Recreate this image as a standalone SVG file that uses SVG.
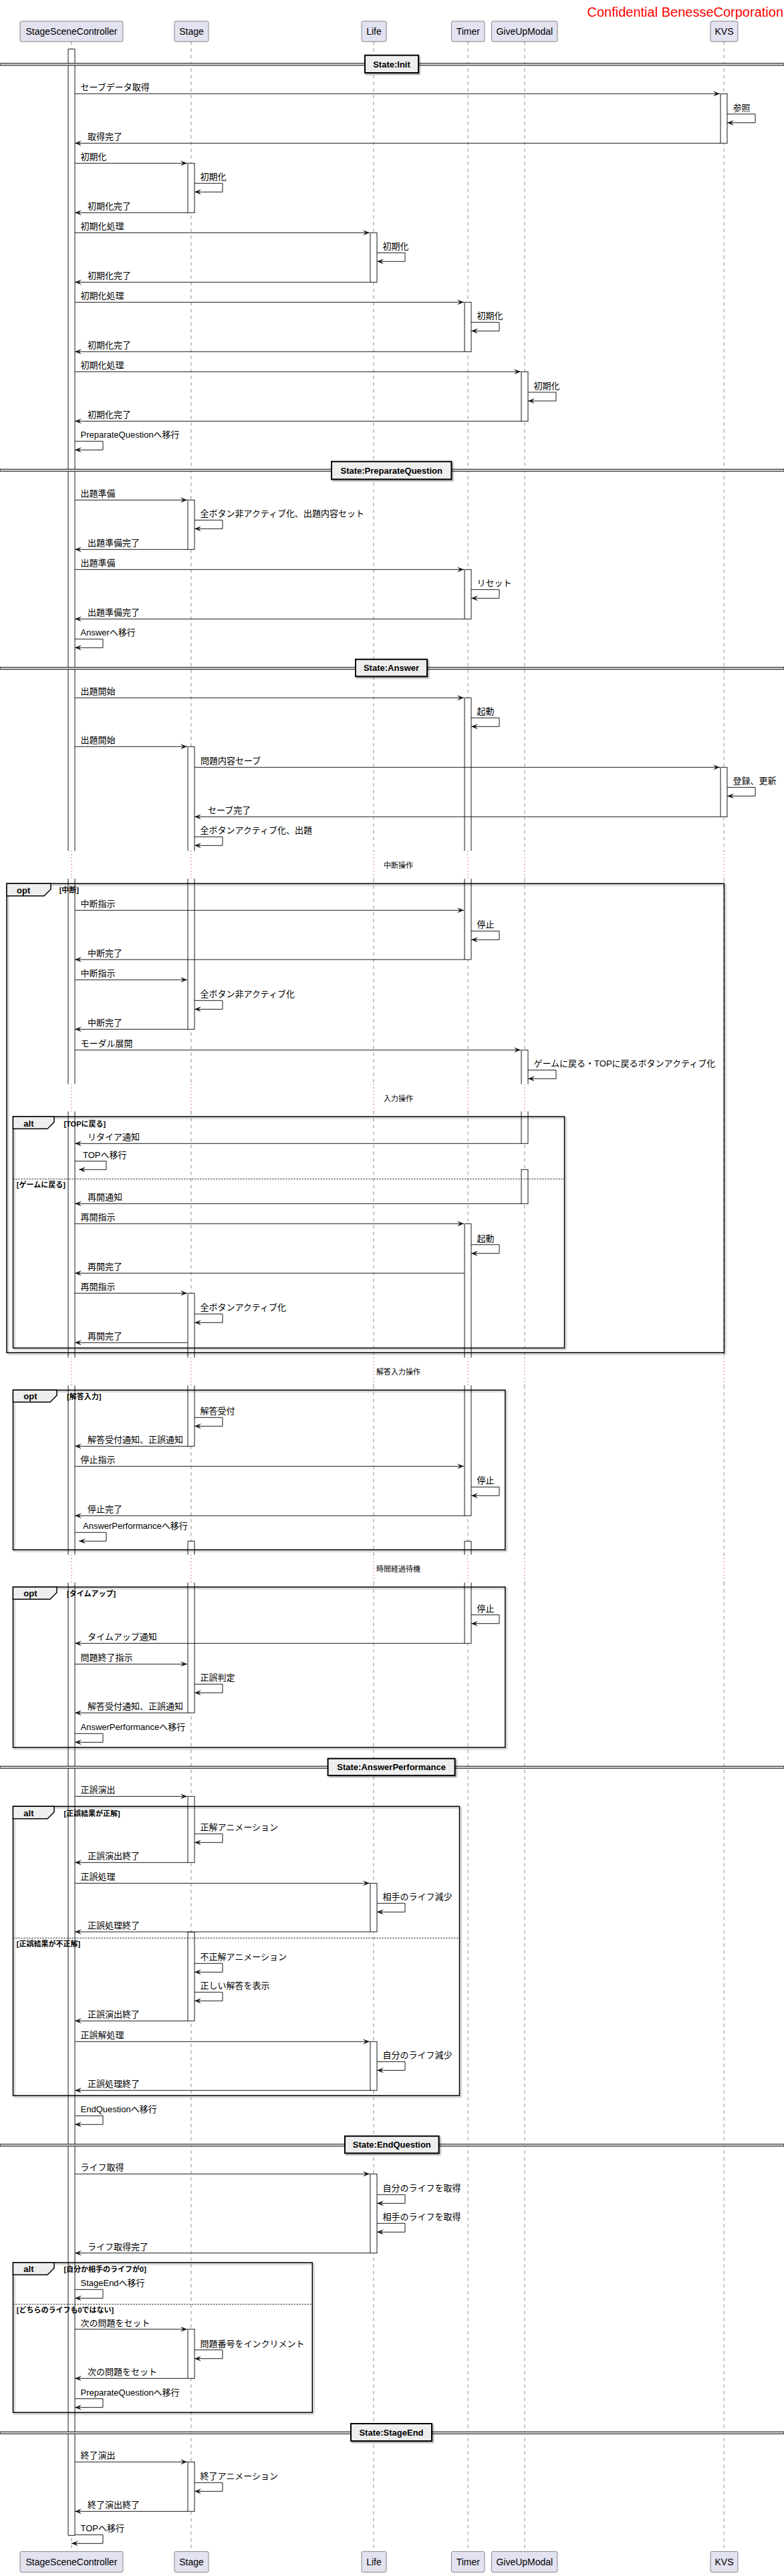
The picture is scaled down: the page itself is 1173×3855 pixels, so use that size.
<svg xmlns="http://www.w3.org/2000/svg" width="1173" height="3855" viewBox="0 0 1173 3855">
<style>
.t{font-family:"Liberation Sans","Noto Sans CJK JP",sans-serif;font-size:13px;fill:#000}
.pt{font-family:"Liberation Sans","Noto Sans CJK JP",sans-serif;font-size:14px;fill:#000;text-anchor:middle}
.g{font-family:"Liberation Sans","Noto Sans CJK JP",sans-serif;font-size:11px;font-weight:bold;fill:#000}
.fl{font-family:"Liberation Sans","Noto Sans CJK JP",sans-serif;font-size:13px;font-weight:bold;fill:#000}
.dv{font-family:"Liberation Sans","Noto Sans CJK JP",sans-serif;font-size:13px;font-weight:bold;fill:#000;text-anchor:middle}
.dl{font-family:"Liberation Sans","Noto Sans CJK JP",sans-serif;font-size:11px;fill:#000;text-anchor:middle}
.pb{fill:#E2E2F0;stroke:#181818;stroke-width:0.5}
.ll{fill:none;stroke:#181818;stroke-width:0.5;stroke-dasharray:5,5}
.dd{fill:none;stroke:#A80036;stroke-width:1;stroke-dasharray:1,4}
.act{fill:#fff;stroke:#181818;stroke-width:1}
.af{fill:#fff;stroke:none}
.as{fill:none;stroke:#181818;stroke-width:1}
.m path{fill:none;stroke:#181818;stroke-width:1;marker-end:url(#ah)}
.fr{fill:none;stroke:#000;stroke-width:1.5;filter:url(#sh)}
.tab{fill:#EEEEEE;stroke:#000;stroke-width:1.5}
.sep{stroke:#000;stroke-width:1;stroke-dasharray:2,2}
.dvl{fill:#EEEEEE;stroke:#000;stroke-width:1}
.dvb{fill:#EEEEEE;stroke:#000;stroke-width:2;filter:url(#sh)}
</style>
<defs>
<marker id="ah" viewBox="0 0 10 8" refX="10" refY="4" markerWidth="10" markerHeight="8" markerUnits="userSpaceOnUse" orient="auto"><path d="M0,0 L10,4 L0,8 L4,4 Z" fill="#181818"/></marker>
<filter id="sh" x="-5%" y="-5%" width="110%" height="120%"><feDropShadow dx="2" dy="2" stdDeviation="1.2" flood-color="#000" flood-opacity="0.35"/></filter>
</defs>
<rect width="1173" height="3855" fill="#fff"/>
<text x="1172" y="24.5" font-family="Liberation Sans, sans-serif" font-size="20" fill="#FF0000" text-anchor="end">Confidential BenesseCorporation</text>

<!-- lifelines -->
<g id="lifelines">
<path class="ll" d="M107,62.3V1273.3M107,1315V1622.3M107,1663.3V2031.7M107,2073.3V2326.7M107,2368.3V3818.3"/>
<path class="ll" d="M286,62.3V1273.3M286,1315V1622.3M286,1663.3V2031.7M286,2073.3V2326.7M286,2368.3V3818.3"/>
<path class="ll" d="M559,62.3V1273.3M559,1315V1622.3M559,1663.3V2031.7M559,2073.3V2326.7M559,2368.3V3818.3"/>
<path class="ll" d="M700,62.3V1273.3M700,1315V1622.3M700,1663.3V2031.7M700,2073.3V2326.7M700,2368.3V3818.3"/>
<path class="ll" d="M785,62.3V1273.3M785,1315V1622.3M785,1663.3V2031.7M785,2073.3V2326.7M785,2368.3V3818.3"/>
<path class="ll" d="M1083,62.3V1273.3M1083,1315V1622.3M1083,1663.3V2031.7M1083,2073.3V2326.7M1083,2368.3V3818.3"/>
<path class="dd" d="M107,1273.3V1315M286,1273.3V1315M559,1273.3V1315M700,1273.3V1315M785,1273.3V1315M1083,1273.3V1315"/>
<path class="dd" d="M107,1622.3V1663.3M286,1622.3V1663.3M559,1622.3V1663.3M700,1622.3V1663.3M785,1622.3V1663.3M1083,1622.3V1663.3"/>
<path class="dd" d="M107,2031.7V2073.3M286,2031.7V2073.3M559,2031.7V2073.3M700,2031.7V2073.3M785,2031.7V2073.3M1083,2031.7V2073.3"/>
<path class="dd" d="M107,2326.7V2368.3M286,2326.7V2368.3M559,2326.7V2368.3M700,2326.7V2368.3M785,2326.7V2368.3M1083,2326.7V2368.3"/>
<text class="dl" x="596" y="1299">中断操作</text>
<text class="dl" x="596" y="1648">入力操作</text>
<text class="dl" x="596" y="2057">解答入力操作</text>
<text class="dl" x="596" y="2352">時間経過待機</text>
</g>

<!-- participants -->
<g id="StageSceneController">
<rect class="pb" x="30" y="31.7" width="154" height="30.6" rx="2.5"/>
<text class="pt" x="107" y="52">StageSceneController</text>
<rect class="pb" x="30" y="3818.3" width="154" height="31" rx="2.5"/>
<text class="pt" x="107" y="3839">StageSceneController</text>
<rect class="af" x="102" y="73.3" width="10" height="1200"/><path class="as" d="M102,1273.3V73.3H112V1273.3"/>
<rect class="af" x="102" y="1315" width="10" height="307.3"/><path class="as" d="M102,1315V1622.3M112,1315V1622.3"/>
<rect class="af" x="102" y="1663.3" width="10" height="368.4"/><path class="as" d="M102,1663.3V2031.7M112,1663.3V2031.7"/>
<rect class="af" x="102" y="2073.3" width="10" height="253.4"/><path class="as" d="M102,2073.3V2326.7M112,2073.3V2326.7"/>
<rect class="af" x="102" y="2368.3" width="10" height="1426"/><path class="as" d="M102,2368.3V3794.3H112V2368.3"/>
</g>
<g id="Stage">
<rect class="pb" x="261" y="31.7" width="51" height="30.6" rx="2.5"/>
<text class="pt" x="286.5" y="52">Stage</text>
<rect class="pb" x="261" y="3818.3" width="51" height="31" rx="2.5"/>
<text class="pt" x="286.5" y="3839">Stage</text>
<rect class="act" x="281" y="244.3" width="10" height="74"/>
<rect class="act" x="281" y="748.3" width="10" height="74"/>
<rect class="af" x="281" y="1117.3" width="10" height="156"/><path class="as" d="M281,1273.3V1117.3H291V1273.3"/>
<rect class="af" x="281" y="1315" width="10" height="225.3"/><path class="as" d="M281,1315V1540.3H291V1315"/>
<rect class="af" x="281" y="1935.3" width="10" height="96.4"/><path class="as" d="M281,2031.7V1935.3H291V2031.7"/>
<rect class="af" x="281" y="2073.3" width="10" height="91"/><path class="as" d="M281,2073.3V2164.3H291V2073.3"/>
<rect class="af" x="281" y="2306.3" width="10" height="20.4"/><path class="as" d="M281,2326.7V2306.3H291V2326.7"/>
<rect class="af" x="281" y="2368.3" width="10" height="195"/><path class="as" d="M281,2368.3V2563.3H291V2368.3"/>
<rect class="act" x="281" y="2688.3" width="10" height="99"/>
<rect class="act" x="281" y="2891.5" width="10" height="132.8"/>
<rect class="act" x="281" y="3485.7" width="10" height="73.6"/>
<rect class="act" x="281" y="3684.3" width="10" height="74"/>
</g>
<g id="Life">
<rect class="pb" x="541" y="31.7" width="37" height="30.6" rx="2.5"/>
<text class="pt" x="559.5" y="52">Life</text>
<rect class="pb" x="541" y="3818.3" width="37" height="31" rx="2.5"/>
<text class="pt" x="559.5" y="3839">Life</text>
<rect class="act" x="554" y="348.3" width="10" height="74"/>
<rect class="act" x="554" y="2818.3" width="10" height="72.7"/>
<rect class="act" x="554" y="3055.3" width="10" height="73"/>
<rect class="act" x="554" y="3253.3" width="10" height="118.4"/>
</g>
<g id="Timer">
<rect class="pb" x="675.5" y="31.7" width="49.5" height="30.6" rx="2.5"/>
<text class="pt" x="700.3" y="52">Timer</text>
<rect class="pb" x="675.5" y="3818.3" width="49.5" height="31" rx="2.5"/>
<text class="pt" x="700.3" y="3839">Timer</text>
<rect class="act" x="695" y="452.3" width="10" height="74"/>
<rect class="act" x="695" y="852.3" width="10" height="74"/>
<rect class="af" x="695" y="1044.3" width="10" height="229"/><path class="as" d="M695,1273.3V1044.3H705V1273.3"/>
<rect class="af" x="695" y="1315" width="10" height="121"/><path class="as" d="M695,1315V1436H705V1315"/>
<rect class="af" x="695" y="1831.3" width="10" height="200.4"/><path class="as" d="M695,2031.7V1831.3H705V2031.7"/>
<rect class="af" x="695" y="2073.3" width="10" height="195"/><path class="as" d="M695,2073.3V2268.3H705V2073.3"/>
<rect class="af" x="695" y="2306.3" width="10" height="20.4"/><path class="as" d="M695,2326.7V2306.3H705V2326.7"/>
<rect class="af" x="695" y="2368.3" width="10" height="91"/><path class="as" d="M695,2368.3V2459.3H705V2368.3"/>
</g>
<g id="GiveUpModal">
<rect class="pb" x="735.5" y="31.7" width="98.5" height="30.6" rx="2.5"/>
<text class="pt" x="784.8" y="52">GiveUpModal</text>
<rect class="pb" x="735.5" y="3818.3" width="98.5" height="31" rx="2.5"/>
<text class="pt" x="784.8" y="3839">GiveUpModal</text>
<rect class="act" x="780" y="556.3" width="10" height="74"/>
<rect class="af" x="780" y="1571.3" width="10" height="51"/><path class="as" d="M780,1622.3V1571.3H790V1622.3"/>
<rect class="af" x="780" y="1663.3" width="10" height="48"/><path class="as" d="M780,1663.3V1711.3H790V1663.3"/>
<rect class="act" x="780" y="1750.3" width="10" height="51"/>
</g>
<g id="KVS">
<rect class="pb" x="1063" y="31.7" width="41" height="30.6" rx="2.5"/>
<text class="pt" x="1083.5" y="52">KVS</text>
<rect class="pb" x="1063" y="3818.3" width="41" height="31" rx="2.5"/>
<text class="pt" x="1083.5" y="3839">KVS</text>
<rect class="act" x="1078" y="140.3" width="10" height="74"/>
<rect class="act" x="1078" y="1148.3" width="10" height="74"/>
</g>

<!-- fragments -->
<g id="fragments">
<rect class="fr" x="10" y="1322.3" width="1073.4" height="702"/>
<path class="tab" d="M10,1322.3H76V1330.7L66,1340.7H10Z"/>
<text class="fl" x="25" y="1336.5">opt</text>
<text class="g" x="88.7" y="1336">[中断]</text>

<rect class="fr" x="19.5" y="1671" width="825" height="346.3"/>
<path class="tab" d="M19.5,1671H81V1679.3L71,1689.3H19.5Z"/>
<text class="fl" x="35.3" y="1685.5">alt</text>
<text class="g" x="95.4" y="1685.5">[TOPに戻る]</text>
<line class="sep" x1="19.5" y1="1764.3" x2="844.5" y2="1764.3"/>
<text class="g" x="24.8" y="1777">[ゲームに戻る]</text>

<rect class="fr" x="19.5" y="2080.3" width="736.3" height="239"/>
<path class="tab" d="M19.5,2080.3H85V2088.3L75,2098.3H19.5Z"/>
<text class="fl" x="35.3" y="2094">opt</text>
<text class="g" x="100" y="2094">[解答入力]</text>

<rect class="fr" x="19.5" y="2375" width="736.3" height="240"/>
<path class="tab" d="M19.5,2375H85V2383.3L75,2393.3H19.5Z"/>
<text class="fl" x="35.3" y="2389">opt</text>
<text class="g" x="100" y="2389">[タイムアップ]</text>

<rect class="fr" x="19.5" y="2703.3" width="668" height="432.7"/>
<path class="tab" d="M19.5,2703.3H81V2711.7L71,2721.7H19.5Z"/>
<text class="fl" x="35.3" y="2717.5">alt</text>
<text class="g" x="95.4" y="2717.5">[正誤結果が正解]</text>
<line class="sep" x1="19.5" y1="2900.3" x2="687.5" y2="2900.3"/>
<text class="g" x="24.8" y="2913">[正誤結果が不正解]</text>

<rect class="fr" x="19.5" y="3386" width="447.8" height="224.3"/>
<path class="tab" d="M19.5,3386H81V3394.3L71,3404.3H19.5Z"/>
<text class="fl" x="35.3" y="3400">alt</text>
<text class="g" x="95.4" y="3400">[自分か相手のライフが0]</text>
<line class="sep" x1="19.5" y1="3448.3" x2="467.3" y2="3448.3"/>
<text class="g" x="24.8" y="3461">[どちらのライフも0ではない]</text>
</g>

<!-- dividers -->
<g id="dividers">
<rect class="dvl" x="0" y="94.8" width="1173" height="3"/>
<rect class="dvb" x="546" y="82.7" width="80" height="26.3"/>
<text class="dv" x="586" y="100.5">State:Init</text>
<rect class="dvl" x="0" y="702.2" width="1173" height="3"/>
<rect class="dvb" x="496" y="690.7" width="179.4" height="26.6"/>
<text class="dv" x="585.7" y="708.5">State:PreparateQuestion</text>
<rect class="dvl" x="0" y="998.7" width="1173" height="3"/>
<rect class="dvb" x="532" y="986.7" width="107" height="25.6"/>
<text class="dv" x="585.5" y="1004.3">State:Answer</text>
<rect class="dvl" x="0" y="2643.2" width="1173" height="3"/>
<rect class="dvb" x="490.6" y="2631.7" width="190" height="25.3"/>
<text class="dv" x="585.6" y="2649">State:AnswerPerformance</text>
<rect class="dvl" x="0" y="3208.8" width="1173" height="3"/>
<rect class="dvb" x="516" y="3196.7" width="140.6" height="25.6"/>
<text class="dv" x="586.3" y="3214.3">State:EndQuestion</text>
<rect class="dvl" x="0" y="3639.2" width="1173" height="3"/>
<rect class="dvb" x="525" y="3627" width="121" height="26"/>
<text class="dv" x="585.5" y="3644.7">State:StageEnd</text>
</g>

<!-- connectors -->
<g id="connectors" class="m">
<path d="M112,140.3H1077"/>
<path d="M1088,170.7h42v13H1088"/>
<path d="M1078,214.3H112"/>
<path d="M112,244.3H280"/>
<path d="M291,274.3h42v13H291"/>
<path d="M281,318.3H112"/>
<path d="M112,348.3H553"/>
<path d="M564,378.3h42v13H564"/>
<path d="M554,422.3H112"/>
<path d="M112,452.3H694"/>
<path d="M705,482.3h42v13H705"/>
<path d="M695,526.3H112"/>
<path d="M112,556.3H779"/>
<path d="M790,587h42v13H790"/>
<path d="M780,630.3H112"/>
<path d="M112,660.3h42v13H112"/>
<path d="M112,748.3H280"/>
<path d="M291,778.3h42v13H291"/>
<path d="M281,822.3H112"/>
<path d="M112,852.3H694"/>
<path d="M705,882.3h42v13H705"/>
<path d="M695,926.3H112"/>
<path d="M112,956.3h42v13H112"/>
<path d="M112,1044.3H694"/>
<path d="M705,1074.3h42v13H705"/>
<path d="M112,1117.3H280"/>
<path d="M291,1148.3H1077"/>
<path d="M1088,1178.3h42v13H1088"/>
<path d="M1078,1222.3H291"/>
<path d="M291,1252.3h42v13H291"/>
<path d="M112,1362.3H694"/>
<path d="M705,1393.3h42v13H705"/>
<path d="M695,1436H112"/>
<path d="M112,1466.3H280"/>
<path d="M291,1497.3h42v13H291"/>
<path d="M281,1540.3H112"/>
<path d="M112,1571.3H779"/>
<path d="M790,1601.3h42v13H790"/>
<path d="M780,1711.3H112"/>
<path d="M112,1737.7H159V1750.3H118"/>
<path d="M780,1801.3H112"/>
<path d="M112,1831.3H694"/>
<path d="M705,1862.7h42v13H705"/>
<path d="M695,1905.3H112"/>
<path d="M112,1935.3H280"/>
<path d="M291,1966.3h42v13H291"/>
<path d="M281,2009.3H112"/>
<path d="M291,2121.3h42v13H291"/>
<path d="M281,2164.3H112"/>
<path d="M112,2194.3H694"/>
<path d="M705,2225.3h42v13H705"/>
<path d="M695,2268.3H112"/>
<path d="M112,2293.3H159V2306.3H118"/>
<path d="M705,2416.7h42v13H705"/>
<path d="M695,2459.3H112"/>
<path d="M112,2490.3H280"/>
<path d="M291,2520.3h42v13H291"/>
<path d="M281,2563.3H112"/>
<path d="M112,2594.3h42v13H112"/>
<path d="M112,2688.3H280"/>
<path d="M291,2744.3h42v13H291"/>
<path d="M281,2787.3H112"/>
<path d="M112,2818.3H553"/>
<path d="M564,2848.3h42v13H564"/>
<path d="M554,2891H112"/>
<path d="M291,2938.3h42v13H291"/>
<path d="M291,2981.3h42v13H291"/>
<path d="M281,3024.3H112"/>
<path d="M112,3055.3H553"/>
<path d="M564,3085.3h42v13H564"/>
<path d="M554,3128.3H112"/>
<path d="M112,3166.3h42v13H112"/>
<path d="M112,3253.3H553"/>
<path d="M564,3284.3h42v13H564"/>
<path d="M564,3327.3h42v13H564"/>
<path d="M554,3371.7H112"/>
<path d="M112,3426.3h42v13H112"/>
<path d="M112,3485.7H280"/>
<path d="M291,3516.7h42v13H291"/>
<path d="M281,3559.3H112"/>
<path d="M112,3589.7h42v13H112"/>
<path d="M112,3684.3H280"/>
<path d="M291,3715.3h42v13H291"/>
<path d="M281,3758.3H112"/>
<path d="M112,3793.3h42v13H107"/>
</g>

<!-- message labels -->
<g id="labels" class="t">
<text class="t" x="120.5" y="135.3">セーブデータ取得</text>
<text class="t" x="1096.5" y="165.7">参照</text>
<text class="t" x="131" y="209.3">取得完了</text>
<text class="t" x="120.5" y="239.3">初期化</text>
<text class="t" x="299.5" y="269.3">初期化</text>
<text class="t" x="131" y="313.3">初期化完了</text>
<text class="t" x="120.5" y="343.3">初期化処理</text>
<text class="t" x="572.5" y="373.3">初期化</text>
<text class="t" x="131" y="417.3">初期化完了</text>
<text class="t" x="120.5" y="447.3">初期化処理</text>
<text class="t" x="713.5" y="477.3">初期化</text>
<text class="t" x="131" y="521.3">初期化完了</text>
<text class="t" x="120.5" y="551.3">初期化処理</text>
<text class="t" x="798.5" y="582">初期化</text>
<text class="t" x="131" y="625.3">初期化完了</text>
<text class="t" x="120.5" y="655.3">PreparateQuestionへ移行</text>
<text class="t" x="120.5" y="743.3">出題準備</text>
<text class="t" x="299.5" y="773.3">全ボタン非アクティブ化、出題内容セット</text>
<text class="t" x="131" y="817.3">出題準備完了</text>
<text class="t" x="120.5" y="847.3">出題準備</text>
<text class="t" x="713.5" y="877.3">リセット</text>
<text class="t" x="131" y="921.3">出題準備完了</text>
<text class="t" x="120.5" y="951.3">Answerへ移行</text>
<text class="t" x="120.5" y="1039.3">出題開始</text>
<text class="t" x="713.5" y="1069.3">起動</text>
<text class="t" x="120.5" y="1112.3">出題開始</text>
<text class="t" x="300" y="1143.3">問題内容セーブ</text>
<text class="t" x="1096.5" y="1173.3">登録、更新</text>
<text class="t" x="311" y="1217.3">セーブ完了</text>
<text class="t" x="299.5" y="1247.3">全ボタンアクティブ化、出題</text>
<text class="t" x="120.5" y="1357.3">中断指示</text>
<text class="t" x="713.5" y="1388.3">停止</text>
<text class="t" x="131" y="1431">中断完了</text>
<text class="t" x="120.5" y="1461.3">中断指示</text>
<text class="t" x="299.5" y="1492.3">全ボタン非アクティブ化</text>
<text class="t" x="131" y="1535.3">中断完了</text>
<text class="t" x="120.5" y="1566.3">モーダル展開</text>
<text class="t" x="798.5" y="1596.3">ゲームに戻る・TOPに戻るボタンアクティブ化</text>
<text class="t" x="131" y="1706.3">リタイア通知</text>
<text class="t" x="124" y="1732.7">TOPへ移行</text>
<text class="t" x="131" y="1796.3">再開通知</text>
<text class="t" x="120.5" y="1826.3">再開指示</text>
<text class="t" x="713.5" y="1857.7">起動</text>
<text class="t" x="131" y="1900.3">再開完了</text>
<text class="t" x="120.5" y="1930.3">再開指示</text>
<text class="t" x="299.5" y="1961.3">全ボタンアクティブ化</text>
<text class="t" x="131" y="2004.3">再開完了</text>
<text class="t" x="299.5" y="2116.3">解答受付</text>
<text class="t" x="131" y="2159.3">解答受付通知、正誤通知</text>
<text class="t" x="120.5" y="2189.3">停止指示</text>
<text class="t" x="713.5" y="2220.3">停止</text>
<text class="t" x="131" y="2263.3">停止完了</text>
<text class="t" x="124" y="2288.3">AnswerPerformanceへ移行</text>
<text class="t" x="713.5" y="2411.7">停止</text>
<text class="t" x="131" y="2454.3">タイムアップ通知</text>
<text class="t" x="120.5" y="2485.3">問題終了指示</text>
<text class="t" x="299.5" y="2515.3">正誤判定</text>
<text class="t" x="131" y="2558.3">解答受付通知、正誤通知</text>
<text class="t" x="120.5" y="2589.3">AnswerPerformanceへ移行</text>
<text class="t" x="120.5" y="2683.3">正誤演出</text>
<text class="t" x="299.5" y="2739.3">正解アニメーション</text>
<text class="t" x="131" y="2782.3">正誤演出終了</text>
<text class="t" x="120.5" y="2813.3">正誤処理</text>
<text class="t" x="572.5" y="2843.3">相手のライフ減少</text>
<text class="t" x="131" y="2886">正誤処理終了</text>
<text class="t" x="299.5" y="2933.3">不正解アニメーション</text>
<text class="t" x="299.5" y="2976.3">正しい解答を表示</text>
<text class="t" x="131" y="3019.3">正誤演出終了</text>
<text class="t" x="120.5" y="3050.3">正誤解処理</text>
<text class="t" x="572.5" y="3080.3">自分のライフ減少</text>
<text class="t" x="131" y="3123.3">正誤処理終了</text>
<text class="t" x="120.5" y="3161.3">EndQuestionへ移行</text>
<text class="t" x="120.5" y="3248.3">ライフ取得</text>
<text class="t" x="572.5" y="3279.3">自分のライフを取得</text>
<text class="t" x="572.5" y="3322.3">相手のライフを取得</text>
<text class="t" x="131" y="3366.7">ライフ取得完了</text>
<text class="t" x="120.5" y="3421.3">StageEndへ移行</text>
<text class="t" x="120.5" y="3480.7">次の問題をセット</text>
<text class="t" x="299.5" y="3511.7">問題番号をインクリメント</text>
<text class="t" x="131" y="3554.3">次の問題をセット</text>
<text class="t" x="120.5" y="3584.7">PreparateQuestionへ移行</text>
<text class="t" x="120.5" y="3679.3">終了演出</text>
<text class="t" x="299.5" y="3710.3">終了アニメーション</text>
<text class="t" x="131" y="3753.3">終了演出終了</text>
<text class="t" x="120.5" y="3788.3">TOPへ移行</text>
</g>
</svg>
